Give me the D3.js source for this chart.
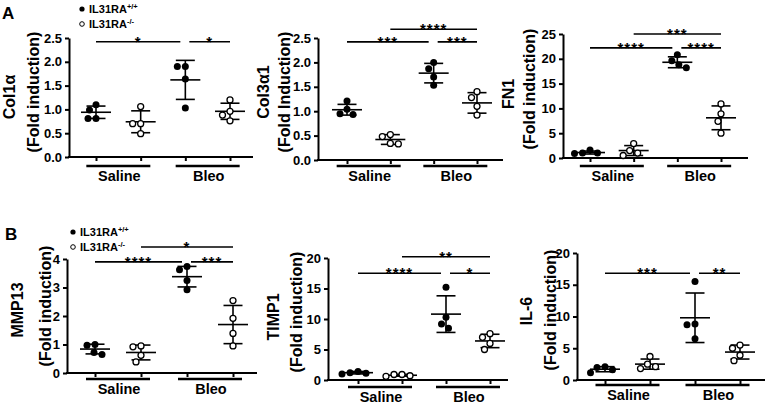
<!DOCTYPE html>
<html><head><meta charset="utf-8">
<script src="https://cdn.jsdelivr.net/npm/d3@7"></script>
<style>body{margin:0;background:#fff}svg{display:block}text{font-family:"Liberation Sans",Arial,sans-serif;font-weight:bold;fill:#000}</style>
</head><body>
<script>
// ---------- DATA ----------
const groups = ["WT Saline", "KO Saline", "WT Bleo", "KO Bleo"];
const conditions = ["Saline", "Bleo"];
const legendLabels = [["IL31RA", "+/+"], ["IL31RA", "-/-"]];

// Col1α
const col1aPoints = [[1.10, 0.99, 0.81, 0.81], [1.06, 0.70, 0.70, 0.49], [1.90, 1.90, 1.64, 1.03], [1.20, 0.96, 0.88, 0.76]];
const col1aMean = [0.94, 0.74, 1.62, 0.96];
const col1aSD = [0.13, 0.23, 0.41, 0.17];
const col1aTicks = [0, 0.5, 1.0, 1.5, 2.0, 2.5];
const col1aSig = [[0, 2, 2.42, "*"], [2, 3, 2.42, "*"]];

// Col3α1
const col3aPoints = [[1.21, 1.04, 0.95, 0.93], [0.48, 0.52, 0.34, 0.33], [2.00, 1.87, 1.70, 1.53], [1.40, 1.28, 1.10, 0.92]];
const col3aMean = [1.03, 0.42, 1.78, 1.17];
const col3aSD = [0.11, 0.10, 0.20, 0.21];
const col3aTicks = [0, 0.5, 1.0, 1.5, 2.0, 2.5];
const col3aSig = [[0, 2, 2.42, "***"], [1, 3, 2.68, "****"], [2, 3, 2.42, "***"]];

// FN1
const fn1Points = [[1.6, 1.0, 1.0, 0.9], [2.9, 1.5, 1.0, 0.5], [20.8, 19.6, 18.8, 18.2], [10.9, 8.9, 7.4, 5.0]];
const fn1Mean = [1.1, 1.5, 19.3, 8.1];
const fn1SD = [0.3, 1.0, 1.1, 2.4];
const fn1Ticks = [0, 5, 10, 15, 20, 25];
const fn1Sig = [[0, 2, 22.2, "****"], [1, 3, 25.0, "***"], [2, 3, 22.2, "****"]];

// MMP13
const mmp13Points = [[0.97, 1.00, 0.65, 0.72], [0.92, 0.95, 0.62, 0.39], [3.62, 3.74, 3.25, 2.92], [2.54, 1.92, 1.39, 0.95]];
const mmp13Mean = [0.84, 0.72, 3.38, 1.70];
const mmp13SD = [0.17, 0.26, 0.36, 0.67];
const mmp13Ticks = [0, 1, 2, 3, 4];
const mmp13Sig = [[0, 2, 3.9, "****"], [1, 3, 4.42, "*"], [2, 3, 3.9, "***"]];

// TIMP1
const timp1Points = [[1.0, 1.4, 1.1, 1.2], [0.6, 0.9, 0.7, 0.9], [15.2, 10.3, 9.2, 8.5], [7.6, 7.0, 6.0, 5.0]];
const timp1Mean = [1.2, 0.78, 10.8, 6.4];
const timp1SD = [0.2, 0.15, 3.0, 1.1];
const timp1Ticks = [0, 5, 10, 15, 20];
const timp1Sig = [[0, 2, 17.5, "****"], [1, 3, 20.2, "**"], [2, 3, 17.5, "*"]];

// IL-6
const il6Points = [[2.1, 1.95, 1.6, 1.15], [3.7, 2.5, 2.1, 1.8], [15.5, 8.8, 8.7, 6.5], [5.5, 5.0, 3.9, 3.05]];
const il6Mean = [1.7, 2.5, 9.8, 4.4];
const il6SD = [0.4, 0.8, 3.9, 1.1];
const il6Ticks = [0, 5, 10, 15, 20];
const il6Sig = [[0, 2, 16.8, "***"], [2, 3, 16.8, "**"]];

// ---------- LAYOUT ----------
const W = 767, H = 405;
const svg = d3.select("body").append("svg").attr("width", W).attr("height", H);

const panels = [
  {name: "Col1α", sub: "(Fold induction)", pts: col1aPoints, mean: col1aMean, sd: col1aSD, ticks: col1aTicks, sig: col1aSig, fmt: ".1f",
   ax: 69, top: 38, bot: 157, xEnd: 253, t1: 96, t4: 230, tx1: 15, tx2: 39, tcy1: 97, tcy2: 92, ul: 166},
  {name: "Col3α1", sub: "(Fold Induction)", pts: col3aPoints, mean: col3aMean, sd: col3aSD, ticks: col3aTicks, sig: col3aSig, fmt: ".1f",
   ax: 318, top: 38, bot: 160, xEnd: 503, t1: 347, t4: 477, tx1: 269, tx2: 290, tcy1: 92, tcy2: 92, ul: 166},
  {name: "FN1", sub: "(Fold induction)", pts: fn1Points, mean: fn1Mean, sd: fn1SD, ticks: fn1Ticks, sig: fn1Sig, fmt: "d",
   ax: 563, top: 34, bot: 158, xEnd: 748, t1: 590, t4: 721, tx1: 514, tx2: 535, tcy1: 94, tcy2: 89, ul: 166},
  {name: "MMP13", sub: "(Fold induction)", pts: mmp13Points, mean: mmp13Mean, sd: mmp13SD, ticks: mmp13Ticks, sig: mmp13Sig, fmt: "d",
   ax: 67, top: 259, bot: 373, xEnd: 257, t1: 95, t4: 233, tx1: 23, tx2: 51, tcy1: 310, tcy2: 306, ul: 379},
  {name: "TIMP1", sub: "(Fold induction)", pts: timp1Points, mean: timp1Mean, sd: timp1SD, ticks: timp1Ticks, sig: timp1Sig, fmt: "d",
   ax: 328, top: 258, bot: 380, xEnd: 508, t1: 358, t4: 490, tx1: 279, tx2: 302, tcy1: 317, tcy2: 312, ul: 387},
  {name: "IL-6", sub: "(Fold induction)", pts: il6Points, mean: il6Mean, sd: il6SD, ticks: il6Ticks, sig: il6Sig, fmt: "d",
   ax: 577, top: 253, bot: 380, xEnd: 765, t1: 605, t4: 740, tx1: 532, tx2: 556, tcy1: 311, tcy2: 310, ul: 385}
];

const R = 3.5, MIN_D = 8;

function swarm(vals, y, cx) {
  const placed = [];
  const order = vals.map((v, i) => i).sort((a, b) => vals[b] - vals[a]);
  order.forEach(i => {
    const py = y(vals[i]);
    for (let k = 0; k < 200; k++) {
      const off = (k % 2 === 0 ? 1 : -1) * Math.ceil(k / 2) * 0.5;
      const px = cx + off;
      if (placed.every(p => Math.hypot(p.x - px, p.y - py) >= MIN_D)) { placed.push({x: px, y: py, i}); break; }
    }
  });
  return placed;
}

panels.forEach((p, pi) => {
  const g = svg.append("g");
  const y = d3.scaleLinear().domain([0, d3.max(p.ticks)]).range([p.bot, p.top]);
  const x = d3.scalePoint().domain(d3.range(groups.length)).range([p.t1, p.t4]);

  // y axis
  const ya = g.append("g").attr("transform", `translate(${p.ax},0)`)
    .call(d3.axisLeft(y).tickValues(p.ticks).tickFormat(d3.format(p.fmt)).tickSize(4).tickSizeOuter(0).tickPadding(3));
  ya.select(".domain").attr("stroke-width", 2);
  ya.selectAll(".tick line").attr("stroke-width", 2);
  ya.selectAll(".tick text").attr("font-size", 13).attr("font-family", "'Liberation Sans', Arial, sans-serif").attr("font-weight", "bold");

  // x axis
  g.append("line").attr("x1", p.ax - 1).attr("x2", p.xEnd).attr("y1", p.bot).attr("y2", p.bot).attr("stroke", "#000").attr("stroke-width", 2);
  const xa = g.append("g").attr("transform", `translate(0,${p.bot})`)
    .call(d3.axisBottom(x).tickFormat("").tickSize(4).tickSizeOuter(0));
  xa.select(".domain").remove();
  xa.selectAll(".tick line").attr("stroke-width", 2);

  // condition underlines + labels
  conditions.forEach((c, ci) => {
    const mid = (x(ci * 2) + x(ci * 2 + 1)) / 2;
    g.append("line").attr("x1", mid - 32).attr("x2", mid + 32).attr("y1", p.ul).attr("y2", p.ul)
      .attr("stroke", "#000").attr("stroke-width", 2.5);
    g.append("text").attr("x", mid + 1).attr("y", p.ul + 15).attr("text-anchor", "middle").attr("font-size", 14.5).text(c);
  });

  // axis titles
  g.append("text").attr("transform", `translate(${p.tx1},${p.tcy1}) rotate(-90)`).attr("text-anchor", "middle").attr("font-size", 16).text(p.name);
  g.append("text").attr("transform", `translate(${p.tx2},${p.tcy2}) rotate(-90)`).attr("text-anchor", "middle").attr("font-size", 16).text(p.sub);

  // points + mean/SD
  p.pts.forEach((vals, gi) => {
    const cx = x(gi);
    const filled = gi % 2 === 0;
    const m = p.mean[gi], s = p.sd[gi];
    const ln = (x1, x2, y1, y2) => g.append("line").attr("x1", x1).attr("x2", x2).attr("y1", y1).attr("y2", y2).attr("stroke", "#000").attr("stroke-width", 1.6);
    ln(cx, cx, y(m + s), y(m - s));
    ln(cx - 15, cx + 15, y(m), y(m));
    ln(cx - 9.5, cx + 9.5, y(m + s), y(m + s));
    ln(cx - 9.5, cx + 9.5, y(m - s), y(m - s));
    swarm(vals, y, cx).forEach(pt => {
      g.append("circle").attr("cx", pt.x).attr("cy", pt.y).attr("r", filled ? R : R - 0.5)
        .attr("fill", filled ? "#000" : "#fff").attr("stroke", "#000").attr("stroke-width", filled ? 0 : 1.3);
    });
  });

  // significance brackets
  p.sig.forEach(([a, b, lvl, lab]) => {
    const shared = p.sig.some(o => o !== undefined && o[0] === b && o[2] === lvl);
    const x1 = x(a) + (p.sig.some(o => o[1] === a && o[2] === lvl) ? 4 : 0);
    const x2 = x(b) - (shared ? 5 : 0);
    const yy = y(lvl);
    g.append("line").attr("x1", x1).attr("x2", x2).attr("y1", yy).attr("y2", yy).attr("stroke", "#000").attr("stroke-width", 1.6);
    g.append("text").attr("x", (x1 + x2) / 2).attr("y", yy + 5).attr("text-anchor", "middle").attr("font-size", 15)
      .attr("font-weight", "normal").attr("letter-spacing", 1).text(lab);
  });
});

// panel letters
svg.append("text").attr("x", 2).attr("y", 19).attr("font-size", 17).text("A");
svg.append("text").attr("x", 5).attr("y", 240).attr("font-size", 17).text("B");

// legends
function legend(x0, y0) {
  legendLabels.forEach((l, i) => {
    const cy = y0 + i * 15;
    svg.append("circle").attr("cx", x0).attr("cy", cy).attr("r", i === 0 ? 2.6 : 2.3)
      .attr("fill", i === 0 ? "#000" : "#fff").attr("stroke", "#000").attr("stroke-width", i === 0 ? 0 : 1);
    const t = svg.append("text").attr("x", x0 + 7).attr("y", cy + 4).attr("font-size", 11);
    t.append("tspan").text(l[0]);
    t.append("tspan").attr("dy", -4).attr("font-size", 7.5).text(l[1]);
  });
}
legend(82, 9);
legend(73, 232);
</script>
</body></html>
